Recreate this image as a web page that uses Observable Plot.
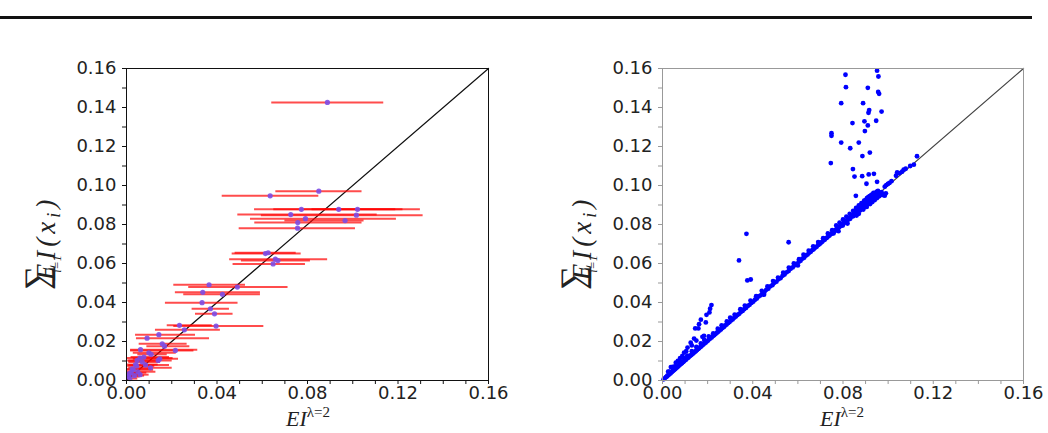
<!DOCTYPE html>
<html><head><meta charset="utf-8">
<script src="https://cdn.jsdelivr.net/npm/d3@7"></script>
<script src="https://cdn.jsdelivr.net/npm/@observablehq/plot@0.6"></script>
<style>
body{margin:0;background:#fff;width:1048px;height:433px;overflow:hidden;position:relative;font-family:"DejaVu Sans"}
#rule{position:absolute;left:0;top:16px;width:1032px;height:3px;background:#111}
#left{position:absolute;left:0;top:40px}
#right{position:absolute;left:524px;top:40px}
</style></head><body>
<div id="rule"></div><div id="left"></div><div id="right"></div>
<script>
// ---- tick values ----
const axisTicks = [0,0.01,0.02,0.03,0.04,0.05,0.06,0.07,0.08,0.09,0.10,0.11,0.12,0.13,0.14,0.15,0.16];
const xLabelTicks = [0,0.04,0.08,0.12,0.16];
const yLabelTicks = [0,0.02,0.04,0.06,0.08,0.10,0.12,0.14,0.16];
const identityLine = [[0,0],[0.16,0.16]];

// ---- left panel: point estimate with horizontal error bars ----
const leftX  = [0.0888,0.0850,0.0635,0.0773,0.0938,0.1021,0.0726,0.1016,0.0791,0.0757,0.0966,0.0756,0.0614,0.0626,0.0658,0.0669,0.0648,0.0365,0.0490,0.0337,0.0424,0.0334,0.0371,0.0389,0.0234,0.0396,0.0256,0.0143,0.0091,0.0158,0.0168,0.0062,0.0216,0.0099,0.0109,0.0147,0.0077,0.0140,0.0047,0.0040,0.0084,0.0106,0.0030,0.0020,0.0010,0.0050,0.0015,0.0060,0.0025,0.0045,0.0070,0.0035,0.0012,0.0060];
const leftY  = [0.1426,0.0971,0.0947,0.0878,0.0878,0.0878,0.0851,0.0848,0.0830,0.0810,0.0820,0.0781,0.0651,0.0655,0.0622,0.0615,0.0598,0.0491,0.0479,0.0452,0.0442,0.0399,0.0368,0.0342,0.0283,0.0279,0.0260,0.0235,0.0217,0.0188,0.0176,0.0158,0.0154,0.0142,0.0134,0.0111,0.0120,0.0103,0.0103,0.0082,0.0080,0.0065,0.0055,0.0040,0.0020,0.0045,0.0010,0.0030,0.0060,0.0075,0.0095,0.0025,0.0035,0.0115];
const leftLo = [0.0642,0.0660,0.0423,0.0566,0.0651,0.0820,0.0492,0.0596,0.0548,0.0567,0.0700,0.0498,0.0467,0.0480,0.0456,0.0508,0.0471,0.0209,0.0275,0.0216,0.0253,0.0172,0.0290,0.0305,0.0180,0.0209,0.0128,0.0040,0.0044,0.0056,0.0090,0.0018,0.0018,0.0030,0.0050,0.0030,0.0020,0.0010,0.0005,0.0000,0.0010,0.0010,0.0000,0.0000,0.0000,0.0005,0.0000,0.0010,0.0000,0.0005,0.0010,0.0000,0.0000,0.0000];
const leftHi = [0.1137,0.1041,0.0850,0.1299,0.1222,0.1190,0.1108,0.1311,0.1193,0.1041,0.1050,0.1012,0.0772,0.0750,0.0889,0.0813,0.0791,0.0526,0.0714,0.0592,0.0592,0.0493,0.0455,0.0471,0.0379,0.0607,0.0415,0.0305,0.0367,0.0268,0.0280,0.0315,0.0298,0.0220,0.0180,0.0230,0.0190,0.0202,0.0150,0.0140,0.0190,0.0202,0.0120,0.0090,0.0060,0.0130,0.0050,0.0100,0.0110,0.0125,0.0150,0.0080,0.0070,0.0206];

// ---- right panel: scatter ----
const rightOutliers = [[0.0811,0.1568],[0.0951,0.1589],[0.0957,0.1559],[0.0813,0.1504],[0.0910,0.1501],[0.0956,0.1480],[0.0960,0.1470],[0.0792,0.1422],[0.0889,0.1422],[0.0916,0.1387],[0.0913,0.1373],[0.0971,0.1379],[0.0842,0.1320],[0.0895,0.1329],[0.0947,0.1332],[0.0910,0.1308],[0.0897,0.1279],[0.0749,0.1268],[0.0749,0.1255],[0.0792,0.1220],[0.0870,0.1220],[0.0832,0.1191],[0.0919,0.1169],[0.0886,0.1151],[0.0746,0.1115],[0.0844,0.1084],[0.0851,0.1046],[0.0885,0.1048],[0.0914,0.1057],[0.0937,0.1060],[0.0904,0.1009],[0.0951,0.1019],[0.0857,0.0947],[0.0372,0.0752],[0.0559,0.0709],[0.0339,0.0616],[0.0376,0.0513],[0.0391,0.0518]];
const rightBranch = [[0.0217,0.0387],[0.0211,0.0368],[0.0208,0.0349],[0.0195,0.0337],[0.0170,0.0312],[0.0145,0.0267],[0.0159,0.0267],[0.0140,0.0215],[0.0184,0.0229],[0.0162,0.0289],[0.0192,0.0298],[0.0125,0.0194],[0.0111,0.0169],[0.0088,0.0126],[0.0096,0.0143],[0.0059,0.0091],[0.0037,0.0069],[0.0177,0.0224],[0.0150,0.0205],[0.0130,0.0180],[0.0105,0.0150],[0.0078,0.0115],[0.0068,0.0100],[0.0045,0.0070],[0.0025,0.0045]];
const rightDiag = [[0.0005,0.0006],[0.0010,0.0011],[0.0015,0.0017],[0.0020,0.0021],[0.0022,0.0025],[0.0028,0.0029],[0.0030,0.0034],[0.0035,0.0036],[0.0038,0.0041],[0.0042,0.0044],[0.0046,0.0049],[0.0050,0.0052],[0.0053,0.0057],[0.0057,0.0059],[0.0061,0.0065],[0.0064,0.0067],[0.0068,0.0071],[0.0071,0.0076],[0.0075,0.0078],[0.0079,0.0083],[0.0082,0.0086],[0.0086,0.0089],[0.0089,0.0094],[0.0093,0.0096],[0.0097,0.0101],[0.0100,0.0105],[0.0104,0.0107],[0.0108,0.0113],[0.0112,0.0116],[0.0116,0.0119],[0.0120,0.0125],[0.0124,0.0128],[0.0128,0.0131],[0.0132,0.0137],[0.0136,0.0139],[0.0140,0.0144],[0.0145,0.0148],[0.0149,0.0153],[0.0153,0.0156],[0.0158,0.0162],[0.0162,0.0165],[0.0167,0.0171],[0.0171,0.0174],[0.0176,0.0180],[0.0181,0.0184],[0.0186,0.0190],[0.0191,0.0194],[0.0196,0.0200],[0.0201,0.0204],[0.0207,0.0211],[0.0212,0.0216],[0.0218,0.0221],[0.0223,0.0228],[0.0229,0.0232],[0.0235,0.0238],[0.0241,0.0245],[0.0247,0.0250],[0.0253,0.0257],[0.0259,0.0262],[0.0265,0.0269],[0.0272,0.0274],[0.0278,0.0282],[0.0284,0.0287],[0.0291,0.0295],[0.0297,0.0300],[0.0304,0.0308],[0.0311,0.0313],[0.0318,0.0322],[0.0325,0.0328],[0.0332,0.0336],[0.0340,0.0342],[0.0347,0.0351],[0.0355,0.0357],[0.0362,0.0366],[0.0370,0.0372],[0.0378,0.0382],[0.0386,0.0388],[0.0394,0.0398],[0.0402,0.0404],[0.0410,0.0414],[0.0418,0.0420],[0.0426,0.0431],[0.0435,0.0437],[0.0443,0.0447],[0.0452,0.0454],[0.0460,0.0465],[0.0469,0.0471],[0.0478,0.0483],[0.0487,0.0489],[0.0496,0.0501],[0.0505,0.0507],[0.0514,0.0519],[0.0523,0.0525],[0.0532,0.0537],[0.0541,0.0543],[0.0550,0.0555],[0.0559,0.0561],[0.0568,0.0573],[0.0577,0.0580],[0.0586,0.0591],[0.0595,0.0598],[0.0604,0.0609],[0.0612,0.0614],[0.0620,0.0625],[0.0628,0.0630],[0.0636,0.0641],[0.0643,0.0646],[0.0650,0.0655],[0.0657,0.0660],[0.0664,0.0669],[0.0670,0.0673],[0.0677,0.0682],[0.0683,0.0686],[0.0690,0.0695],[0.0696,0.0699],[0.0702,0.0707],[0.0708,0.0711],[0.0714,0.0719],[0.0719,0.0722],[0.0725,0.0730],[0.0730,0.0733],[0.0735,0.0740],[0.0740,0.0743],[0.0745,0.0750],[0.0750,0.0753],[0.0755,0.0759],[0.0758,0.0754],[0.0760,0.0764],[0.0765,0.0768],[0.0768,0.0772],[0.0772,0.0776],[0.0776,0.0772],[0.0779,0.0783],[0.0783,0.0787],[0.0786,0.0790],[0.0790,0.0794],[0.0793,0.0797],[0.0796,0.0800],[0.0799,0.0795],[0.0802,0.0806],[0.0805,0.0809],[0.0808,0.0812],[0.0810,0.0816],[0.0813,0.0817],[0.0816,0.0820],[0.0818,0.0815],[0.0821,0.0826],[0.0824,0.0828],[0.0826,0.0831],[0.0829,0.0834],[0.0832,0.0829],[0.0834,0.0839],[0.0837,0.0842],[0.0839,0.0845],[0.0842,0.0847],[0.0845,0.0842],[0.0847,0.0852],[0.0850,0.0855],[0.0852,0.0858],[0.0855,0.0860],[0.0857,0.0854],[0.0860,0.0865],[0.0862,0.0868],[0.0865,0.0870],[0.0867,0.0864],[0.0870,0.0875],[0.0872,0.0878],[0.0874,0.0880],[0.0877,0.0873],[0.0879,0.0884],[0.0881,0.0887],[0.0884,0.0890],[0.0886,0.0882],[0.0888,0.0893],[0.0890,0.0897],[0.0893,0.0899],[0.0895,0.0891],[0.0897,0.0902],[0.0899,0.0906],[0.0901,0.0909],[0.0903,0.0899],[0.0905,0.0911],[0.0907,0.0915],[0.0909,0.0917],[0.0911,0.0906],[0.0913,0.0919],[0.0915,0.0922],[0.0917,0.0925],[0.0919,0.0914],[0.0921,0.0927],[0.0923,0.0931],[0.0925,0.0933],[0.0927,0.0922],[0.0929,0.0936],[0.0931,0.0940],[0.0933,0.0928],[0.0935,0.0943],[0.0937,0.0946],[0.0939,0.0935],[0.0941,0.0948],[0.0943,0.0952],[0.0945,0.0941],[0.0947,0.0955],[0.0949,0.0958],[0.0951,0.0947],[0.0953,0.0960],[0.0955,0.0951],[0.0957,0.0963],[0.0960,0.0955],[0.0963,0.0962],[0.0967,0.0958],[0.0971,0.0966],[0.0978,0.0951],[0.0985,0.0994],[0.0992,0.1002],[0.0999,0.1008],[0.1006,0.1013],[0.1015,0.1022],[0.1035,0.1050],[0.1040,0.1067],[0.1050,0.1063],[0.1062,0.1071],[0.1069,0.1081],[0.1078,0.1086],[0.1098,0.1100],[0.1114,0.1107],[0.1128,0.1150]];
const rightDiagSpread = [[0.0030,0.0045],[0.0055,0.0072],[0.0080,0.0098],[0.0095,0.0115],[0.0110,0.0128],[0.0130,0.0150],[0.0150,0.0172],[0.0170,0.0190],[0.0185,0.0208],[0.0205,0.0226],[0.0225,0.0242],[0.0245,0.0266],[0.0262,0.0283],[0.0285,0.0303],[0.0300,0.0322],[0.0320,0.0338],[0.0345,0.0366],[0.0365,0.0384],[0.0390,0.0410],[0.0415,0.0432],[0.0440,0.0460],[0.0465,0.0482],[0.0490,0.0510],[0.0512,0.0528],[0.0535,0.0553],[0.0560,0.0579],[0.0582,0.0600],[0.0605,0.0622],[0.0625,0.0645],[0.0648,0.0666],[0.0668,0.0688],[0.0690,0.0710],[0.0712,0.0730],[0.0733,0.0754],[0.0752,0.0771],[0.0770,0.0795],[0.0785,0.0810],[0.0800,0.0826],[0.0815,0.0840],[0.0830,0.0855],[0.0845,0.0870],[0.0858,0.0885],[0.0870,0.0898],[0.0882,0.0910],[0.0894,0.0922],[0.0906,0.0935],[0.0918,0.0946],[0.0930,0.0955],[0.0942,0.0962],[0.0950,0.0968],[0.0450,0.0440],[0.0600,0.0590],[0.0780,0.0766],[0.0820,0.0805],[0.0860,0.0846],[0.0890,0.0877],[0.0920,0.0905],[0.0940,0.0925],[0.0960,0.0945],[0.0975,0.0955],[0.0950,0.0935],[0.0880,0.0900],[0.0900,0.0925],[0.0912,0.0940],[0.0925,0.0950],[0.0935,0.0962],[0.0955,0.0972],[0.0965,0.0950],[0.0985,0.0948],[0.0990,0.0960],[0.0870,0.0855],[0.0905,0.0890],[0.0930,0.0915]];

const leftData = leftX.map((x,i)=>({x, y:leftY[i], lo:leftLo[i], hi:leftHi[i]}));
const rightData = [...rightDiag, ...rightDiagSpread, ...rightBranch, ...rightOutliers].map(([x,y])=>({x,y}));

const fmt = d3.format(".2f");
const isIn = (arr, d) => arr.some(v => Math.abs(v - d) < 1e-9);

function panel(marks, ml, mr, axisColor){
  return Plot.plot({
    width:524, height:393, marginLeft:ml, marginRight:mr, marginTop:28, marginBottom:53,
    x:{domain:[0,0.16]}, y:{domain:[0,0.16]},
    style:{fontFamily:"DejaVu Sans", background:"white", overflow:"visible"},
    marks:[
      ...marks,
      Plot.frame({stroke:axisColor}),
      Plot.axisX({ticks:axisTicks, tickSize:4, tickPadding:2, tickFormat:d=>isIn(xLabelTicks,d)?fmt(d):"", label:null, stroke:axisColor, fill:"#222", fontSize:18}),
      Plot.axisY({ticks:axisTicks, tickSize:4, tickPadding:6, tickFormat:d=>isIn(yLabelTicks,d)?fmt(d):"", label:null, stroke:axisColor, fill:"#222", fontSize:18})
    ]
  });
}

const leftPlot = panel([
  Plot.line(identityLine, {x:d=>d[0], y:d=>d[1], stroke:"#111", strokeWidth:1.2}),
  Plot.ruleY(leftData, {y:"y", x1:"lo", x2:"hi", stroke:"#ff0000", strokeWidth:2, strokeOpacity:0.7}),
  Plot.dot(leftData, {x:"x", y:"y", r:2.6, fill:"#7c4ce6", fillOpacity:0.9})
], 126, 36, "#111");

const rightPlot = panel([
  Plot.line(identityLine, {x:d=>d[0], y:d=>d[1], stroke:"#444", strokeWidth:1.2}),
  Plot.dot(rightData, {x:"x", y:"y", r:2.4, fill:"#0000ff"})
], 138, 25, "#999");

document.getElementById("left").appendChild(leftPlot);
document.getElementById("right").appendChild(rightPlot);

function addLabels(svgNode, cx, yLabX, yLabY){
  const svg = d3.select(svgNode);
  // x label: EI^{λ=2}
  const t = svg.append("text").attr("x", cx).attr("y", 386).attr("text-anchor","middle")
    .attr("font-family","Liberation Serif").attr("fill","#222");
  t.append("tspan").attr("font-size",22).attr("font-style","italic").text("EI");
  t.append("tspan").attr("font-size",15).attr("dy",-9).text("λ=2");
  // y label: Σ_{i=1} EI(x_i), rotated
  const g = svg.append("g").attr("transform",`translate(${yLabX},${yLabY}) rotate(-90)`)
    .attr("font-family","Liberation Serif").attr("fill","#222");
  g.append("text").attr("x",0).attr("y",-7).attr("font-size",34).text("∑");
  g.append("text").attr("x",14).attr("y",6).attr("font-size",12).attr("text-anchor","middle").attr("font-style","italic").text("i=1");
  const e = g.append("text").attr("x",40).attr("y",0).attr("font-size",27).attr("font-style","italic").attr("letter-spacing",4);
  e.append("tspan").text("EI(x");
  e.append("tspan").attr("font-size",18).attr("dy",5).text("i");
  e.append("tspan").attr("dy",-5).text(")");
}
addLabels(leftPlot, 308, 55, 238);
addLabels(rightPlot, 318, 67, 238);
</script></body></html>
